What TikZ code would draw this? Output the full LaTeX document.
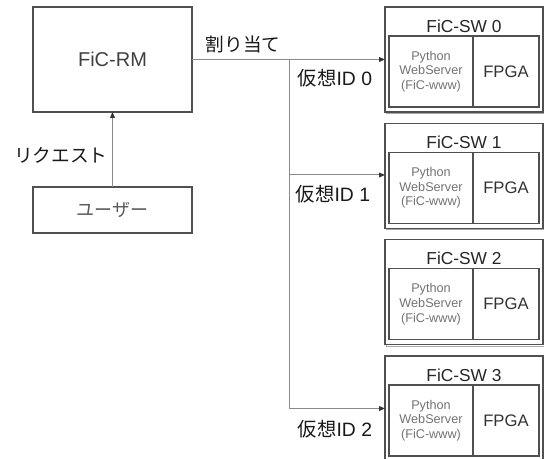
\documentclass[tikz,border=0pt]{standalone}
\usepackage{fontspec}
\setmainfont{Liberation Sans}
\newfontfamily\jpfont{Noto Sans CJK JP}
\usetikzlibrary{arrows.meta}
\definecolor{boxline}{HTML}{505050}
\definecolor{conn}{HTML}{8A8A8A}
\definecolor{shadowline}{HTML}{A8A8A8}
\tikzset{
  mainbox/.style={draw=boxline, line width=1.1pt, rectangle, inner sep=0pt, outer sep=0pt, text=black!75},
  swbox/.style={draw=boxline, line width=0.8pt, rectangle, inner sep=0pt, outer sep=0pt, minimum width=158*0.75pt, minimum height=105*0.75pt},
  cellbox/.style={draw=boxline, line width=0.9pt, rectangle, inner sep=0pt, outer sep=0pt, minimum height=71*0.75pt},
  conline/.style={draw=conn, line width=0.75pt},
  conarrow/.style={conline, -{Triangle[length=4.5pt,width=3.6pt,color=black!80]}},
  lbl/.style={font=\fontsize{14.5pt}{16pt}\selectfont, inner sep=0pt, text=black!90},
  pytext/.style={font=\fontsize{9.5pt}{11pt}\selectfont, text=black!55, align=center},
}
\begin{document}
\begin{tikzpicture}[x=0.75pt,y=-0.75pt]
\useasboundingbox (0,0) rectangle (544,459);
\clip (0,0) rectangle (544,459);
\fill[white] (0,0) rectangle (544,459);

% FiC-RM and user
\node[mainbox, minimum width=159*0.75pt, minimum height=105*0.75pt,
      font=\fontsize{15pt}{17pt}\selectfont] (rm) at (112.5,59.5) {FiC-RM};
\node[mainbox, minimum width=159*0.75pt, minimum height=46*0.75pt,
      font=\fontsize{13.5pt}{16pt}\selectfont\jpfont, text=black!65] (user) at (112.5,210) {ユーザー};

% switch boxes
\foreach \i/\t in {0/7, 1/123.3, 2/239.6, 3/356} {
  \draw[shadowline, line width=0.8pt] (385+1.6,\t+1.6) rectangle (543+1.6,\t+105+1.6);
  \node[swbox, fill=white] (sw\i) at (464,\t+52.5) {};
  \node[font=\fontsize{13pt}{16pt}\selectfont, text=black!85, inner sep=0pt] (swt\i) at (464,\t+19) {FiC-SW \i};
  \node[cellbox, minimum width=84*0.75pt] (py\i) at (431,\t+64.5) {};
  \node[pytext] (pyt\i) at (py\i.center) {Python\\WebServer\\(FiC-www)};
  \node[cellbox, minimum width=66*0.75pt, font=\fontsize{12.5pt}{16pt}\selectfont, text=black!80] (fp\i) at (506,\t+64.5) {FPGA};
}

% connectors
\coordinate (jt) at (289,59.5);
\coordinate (jb) at (289,408.5);
\draw[conarrow] (user.north) -- (rm.south);
\draw[conline] (rm.east) -- (jt);
\draw[conarrow] (jt) -- (sw0.west);
\draw[conline] (jt) -- (jb);
\coordinate (j1) at (289,175);
\draw[conarrow] (j1) -- (j1 -| sw1.west);
\draw[conarrow] (jb) -- (jb -| sw3.west);

% labels
\node[lbl, font=\fontsize{14pt}{16pt}\selectfont\jpfont] (lreq) at (61,155) {リクエスト};
\node[lbl, font=\fontsize{14pt}{16pt}\selectfont\jpfont] (lalloc) at (243,44) {割り当て};
\node[lbl] (lid0) at (335,78) {{\jpfont 仮想}ID 0};
\node[lbl] (lid1) at (333,194) {{\jpfont 仮想}ID 1};
\node[lbl] (lid2) at (335,429) {{\jpfont 仮想}ID 2};
\end{tikzpicture}
\end{document}
